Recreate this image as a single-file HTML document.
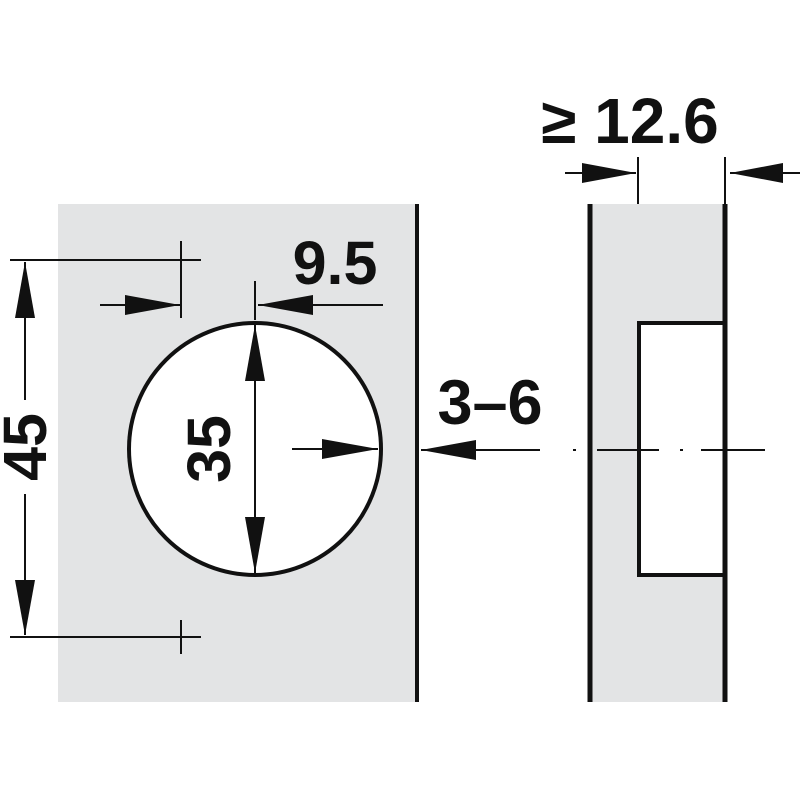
<!DOCTYPE html>
<html><head><style>body{margin:0;background:#fff}</style></head><body>
<svg width="800" height="800" viewBox="0 0 800 800" xmlns="http://www.w3.org/2000/svg" font-family="Liberation Sans, sans-serif" font-weight="bold">
<rect x="58" y="204" width="358" height="498" fill="#e3e4e5"/>
<line x1="417" y1="204" x2="417" y2="702" stroke="#111" stroke-width="4"/>
<circle cx="255" cy="449" r="126" fill="#fff" stroke="#111" stroke-width="4"/>
<g stroke="#111" stroke-width="2" fill="none">
<line x1="10" y1="260" x2="201" y2="260"/>
<line x1="10" y1="637" x2="201" y2="637"/>
<line x1="181" y1="241" x2="181" y2="318"/>
<line x1="181" y1="620" x2="181" y2="654"/>
<line x1="25" y1="262" x2="25" y2="400"/>
<line x1="25" y1="494" x2="25" y2="635"/>
<line x1="100" y1="305" x2="180" y2="305"/>
<line x1="255" y1="281" x2="255" y2="320"/>
<line x1="258" y1="305" x2="383" y2="305"/>
<line x1="255" y1="325" x2="255" y2="573"/>
<line x1="292" y1="449" x2="378" y2="449"/>
<line x1="421" y1="450" x2="540" y2="450"/>
<line x1="565" y1="173" x2="636" y2="173"/>
<line x1="730" y1="173" x2="800" y2="173"/>
<line x1="638" y1="157" x2="638" y2="323"/>
<line x1="725" y1="157" x2="725" y2="204"/>
<line x1="573" y1="450" x2="576" y2="450"/>
<line x1="680" y1="450" x2="683" y2="450"/>
</g>
<g fill="#111">
<polygon points="25,262 15,318 35,318"/>
<polygon points="25,635 15,580 35,580"/>
<polygon points="180,305 125,295 125,315"/>
<polygon points="258,305 313,295 313,315"/>
<polygon points="255,325 245,381 265,381"/>
<polygon points="255,573 245,517 265,517"/>
<polygon points="378,449 322,439 322,459"/>
<polygon points="421,450 476,440 476,460"/>
<polygon points="636,173 582,163 582,183"/>
<polygon points="730,173 783,163 783,183"/>
</g>
<rect x="590" y="204" width="135" height="498" fill="#e3e4e5"/>
<rect x="639" y="323" width="86" height="252" fill="#fff" stroke="#111" stroke-width="4"/>
<line x1="590" y1="204" x2="590" y2="702" stroke="#111" stroke-width="5"/>
<line x1="725" y1="204" x2="725" y2="702" stroke="#111" stroke-width="5"/>
<g stroke="#111" stroke-width="2"><line x1="597" y1="450" x2="659" y2="450"/><line x1="701" y1="450" x2="765" y2="450"/><line x1="680" y1="450" x2="683" y2="450"/></g>
<text x="335" y="284" font-size="61" text-anchor="middle" fill="#111">9.5</text>
<text x="490" y="424" font-size="63" text-anchor="middle" fill="#111">3–6</text>
<text x="630" y="143" font-size="64" text-anchor="middle" fill="#111">≥ 12.6</text>
<text transform="translate(46,447) rotate(-90)" font-size="61" text-anchor="middle" fill="#111">45</text>
<text transform="translate(230,449) rotate(-90)" font-size="61" text-anchor="middle" fill="#111">35</text>
</svg>
</body></html>
